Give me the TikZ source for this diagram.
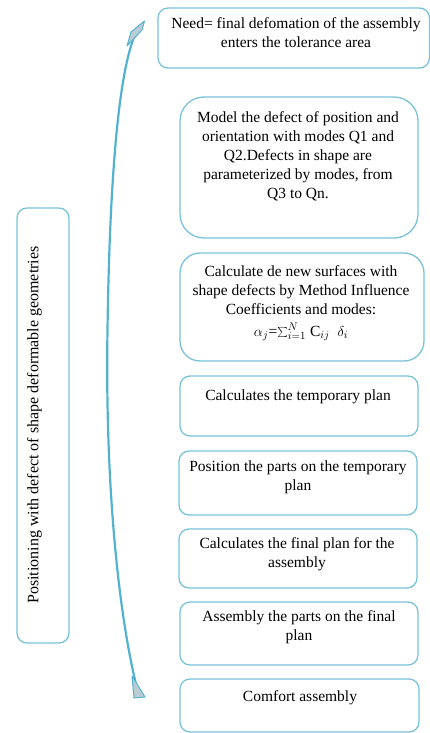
\documentclass[tikz,border=0pt]{standalone}
\usepackage{fontspec}
\setmainfont{Liberation Serif}
\usetikzlibrary{calc}
\definecolor{bordblue}{RGB}{122,194,218}
\definecolor{arrblue}{RGB}{84,178,208}
\definecolor{arrfill}{RGB}{188,204,212}
\begin{document}
\begin{tikzpicture}[x=1pt,y=-1pt,
  box/.style={draw=bordblue, line width=1.3pt, inner sep=0pt, outer sep=0pt, anchor=north west},
  txt/.style={inner sep=0pt, align=center, anchor=north, font=\fontsize{15.5}{19}\selectfont},
  arrowline/.style={draw=arrblue, line width=2.2pt, line cap=round},
  arrowtip/.style={fill=arrfill, draw=arrblue, line width=1pt, line join=round}]
\useasboundingbox (0,0) rectangle (430,733);
% boxes
\node[box, rounded corners=10pt, minimum width=271.5pt, minimum height=60pt] (b1) at (158,8) {};
\node[box, rounded corners=24pt, minimum width=238pt, minimum height=141pt] (b2) at (180,97) {};
\node[box, rounded corners=20pt, minimum width=244pt, minimum height=108pt] (b3) at (180,253) {};
\node[box, rounded corners=10pt, minimum width=238pt, minimum height=60pt] (b4) at (180,376) {};
\node[box, rounded corners=10pt, minimum width=238pt, minimum height=64pt] (b5) at (179,451) {};
\node[box, rounded corners=10pt, minimum width=238pt, minimum height=59pt] (b6) at (179,529) {};
\node[box, rounded corners=10pt, minimum width=238pt, minimum height=63pt] (b7) at (180,602) {};
\node[box, rounded corners=10pt, minimum width=239pt, minimum height=53pt] (b8) at (180,679) {};
\node[box, rounded corners=10pt, minimum width=52pt, minimum height=435pt] (lb) at (17,208) {};
% texts
\node[txt] (t1) at (296,17) {Need= final defomation of the assembly\\enters the tolerance area};
\node[txt] (t2) at (298,111) {Model the defect of position and\\orientation with modes Q1 and\\Q2.Defects in shape are\\parameterized by modes, from\\Q3 to Qn.};
\node[txt] (t3) at (301,265) {Calculate de new surfaces with\\shape defects by Method Influence\\Coefficients and modes:\\[3pt]$\alpha_j$=$\sum_{i=1}^{N}$ C$_{ij}$\ \ $\delta_i$};
\node[txt] (t4) at (298,390) {Calculates the temporary plan};
\node[txt] (t5) at (298,461) {Position the parts on the temporary\\plan};
\node[txt] (t6) at (297,537) {Calculates the final plan for the\\assembly};
\node[txt] (t7) at (299,610) {Assembly the parts on the final\\plan};
\node[txt] (t8) at (300,690) {Comfort assembly};
\node[inner sep=0pt, rotate=90, font=\fontsize{16}{19}\selectfont] (lt) at (34.5,425) {Positioning with defect of shape deformable geometries};
% curved double arrow
\coordinate (atop) at (140,26);
\coordinate (amid) at (107.5,330);
\coordinate (abot) at (136,684);
\draw[arrowline] (atop) .. controls (122,50) and (110,150) .. (amid)
  .. controls (105,480) and (118,610) .. (abot);
\path[arrowtip] (131,32) -- (144.5,21) -- (142,30) -- (127,46) -- cycle;
\path[arrowtip] (132,676) -- (145,697) -- (134,698) -- cycle;
\end{tikzpicture}
\end{document}
